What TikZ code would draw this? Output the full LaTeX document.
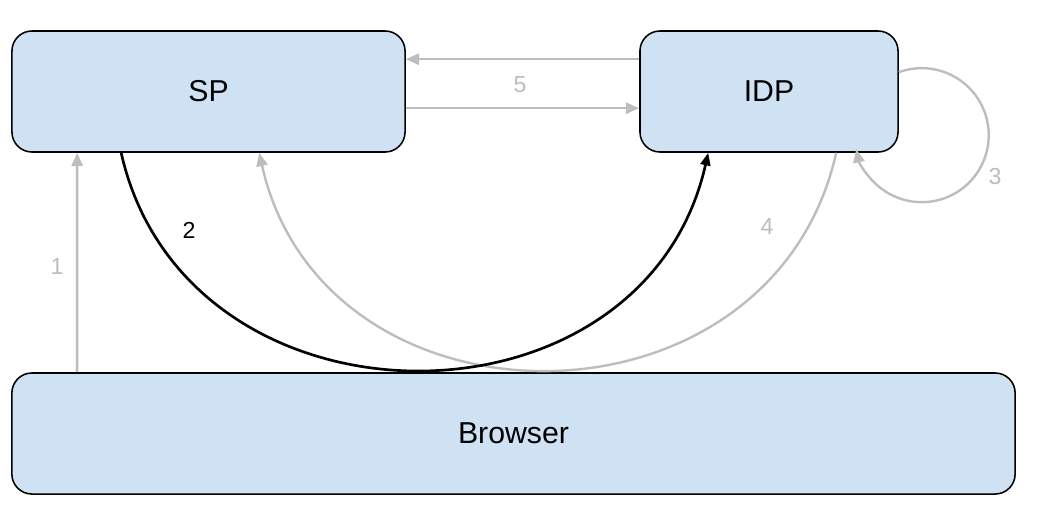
\documentclass[tikz,border=0pt]{standalone}
\usepackage{fontspec}
\setmainfont{Liberation Sans}
\usetikzlibrary{calc, arrows.meta}
\definecolor{boxfill}{HTML}{CFE2F3}
\definecolor{flowgray}{HTML}{BDBDBD}

\begin{document}
\begin{tikzpicture}[x=0.025cm, y=-0.025cm,
        box/.style={draw=black, line width=1.1pt, fill=boxfill, rounded corners=0.5cm,
            minimum height=3.025cm, font=\fontsize{21.5}{26}\selectfont},
        flow/.style={draw=flowgray, line width=1.7pt, -{Triangle[length=9.5pt,width=8pt]}},
        call/.style={draw=black, line width=1.9pt, -{Triangle[length=9pt,width=7pt]}},
        numlabel/.style={text=flowgray, font=\fontsize{16.5}{20}\selectfont}]
        \useasboundingbox (0,0) rectangle (1037,507);

        \node[box, minimum width=9.825cm] (sp) at (208.5,91.5) {SP};
        \node[box, minimum width=6.45cm] (idp) at (769,91.5) {IDP};
        \node[box, minimum width=25.075cm] (browser) at (513.5,433.5) {Browser};

        % 1: browser -> sp
        \draw[flow] ($(browser.north west)+(66,0)$) -- ($(sp.south west)+(66,0)$);
        % 4: idp -> sp (under the black one)
        \draw[flow] ($(idp.south west)+(197,0)$) .. controls +(-65,289) and +(65,289) .. ($(sp.south west)+(248,0)$);
        % 2: sp -> idp
        \draw[call] ($(sp.south west)+(110,0)$) .. controls +(65,289) and +(-65,289) .. ($(idp.south west)+(69,0)$);
        % 5: both ways
        \draw[flow] ($(idp.north west)+(0,29)$) -- ($(sp.north east)+(0,29)$);
        \draw[flow] ($(sp.north east)+(0,78)$) -- ($(idp.north west)+(0,78)$);
        % 3: loop on idp
        \draw[flow] ($(idp.north east)+(0,42)$) arc[start angle=-110, end angle=168, radius=67];

        \node[numlabel] (l1) at (57,267) {1};
        \node[numlabel, text=black] (l2) at (189,230) {2};
        \node[numlabel] (l3) at (995,177) {3};
        \node[numlabel] (l4) at (767,227) {4};
        \node[numlabel] (l5) at (520,85) {5};
\end{tikzpicture}
\end{document}
